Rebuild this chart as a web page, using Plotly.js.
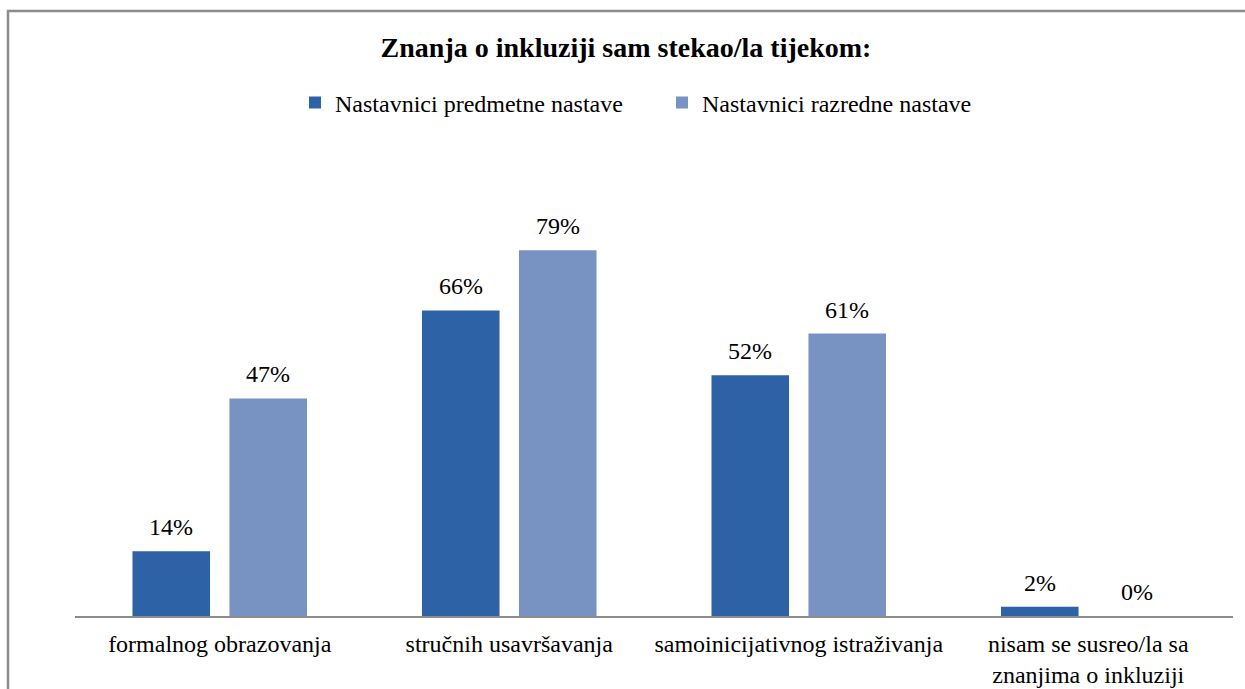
<!DOCTYPE html>
<html>
<head>
<meta charset="utf-8">
<script src="https://cdn.plot.ly/plotly-3.0.1.min.js"></script>
<style>
html,body{margin:0;padding:0;background:#fff;}
#chart{width:1245px;height:689px;}
</style>
</head>
<body>
<div id="chart"></div>
<script>
var categories = ["formalnog obrazovanja", "stručnih usavršavanja", "samoinicijativnog istraživanja", "nisam se susreo/la sa<br>znanjima o inkluziji"];
var seriesNames = ["Nastavnici predmetne nastave", "Nastavnici razredne nastave"];
var predmetne = [14, 66, 52, 2];
var razredne = [47, 79, 61, 0];

var FONT = "Liberation Serif, Times New Roman, serif";
var COLORS = ["#2e62a6", "#7893c2"];

function mk(name, vals, color) {
  return {
    type: "bar",
    name: name,
    x: categories,
    y: vals,
    marker: {color: color, line: {width: 0}},
    hoverinfo: "x+y"
  };
}

var data = [
  mk(seriesNames[0], predmetne, COLORS[0]),
  mk(seriesNames[1], razredne, COLORS[1])
];

var L = 75, R = 12, T = 153, B = 73;
var pw = 1245 - L - R, ph = 689 - T - B;
function px2x(p){ return (p - L) / pw; }
function px2y(p){ return (689 - B - p) / ph; }

// value labels above bars, built from the data arrays
var annotations = [];
[predmetne, razredne].forEach(function(vals, si){
  vals.forEach(function(v, i){
    annotations.push({
      x: categories[i], y: v, xref: "x", yref: "y",
      text: v + "%", showarrow: false,
      xshift: si === 0 ? -48.5 : 48.5, yshift: 9,
      yanchor: "bottom", xanchor: "center",
      font: {family: FONT, size: 24, color: "#000"}
    });
  });
});

var layout = {
  width: 1245, height: 689,
  margin: {l: L, r: R, t: T, b: B},
  paper_bgcolor: "#fff", plot_bgcolor: "#fff",
  font: {family: FONT, size: 24, color: "#000"},
  title: {text: "<b>Znanja o inkluziji sam stekao/la tijekom:</b>", font: {family: FONT, size: 28, color: "#000"},
          x: 626/1245, xanchor: "center", y: 1 - 47/689, yanchor: "middle", xref: "container", yref: "container"},
  barmode: "group",
  bargap: 0.33,
  bargroupgap: 0.2,
  showlegend: true,
  legend: {orientation: "h", x: px2x(295), xanchor: "left", y: px2y(103), yanchor: "middle",
           font: {family: FONT, size: 24, color: "#000"}, traceorder: "normal", itemwidth: 30,
           entrywidth: 322},
  annotations: annotations,
  xaxis: {type: "category", showline: true, linecolor: "#8c8c8c", linewidth: 2, showgrid: false, zeroline: false,
          ticks: "outside", ticklen: 5, tickcolor: "rgba(0,0,0,0)", tickfont: {family: FONT, size: 24, color: "#000"},
          range: [-0.5, 3.5], fixedrange: true},
  yaxis: {range: [0, 100], visible: false, showgrid: false, zeroline: false, fixedrange: true},
  shapes: [{type: "rect", xref: "paper", yref: "paper", x0: px2x(8), x1: px2x(1260), y0: px2y(720), y1: px2y(11),
            line: {color: "#8c8c8c", width: 2.5}, fillcolor: "rgba(0,0,0,0)", layer: "below"}]
};

Plotly.newPlot("chart", data, layout, {displayModeBar: false, staticPlot: true});
</script>
</body>
</html>
